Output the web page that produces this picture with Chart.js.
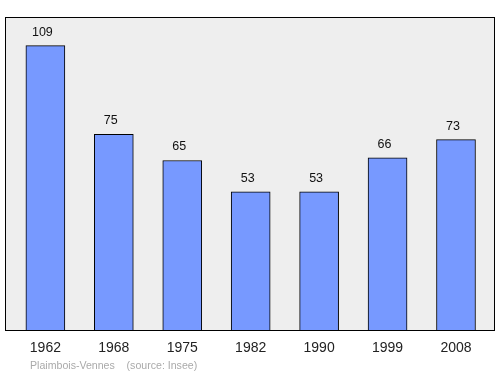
<!DOCTYPE html>
<html>
<head>
<meta charset="utf-8">
<script src="https://cdn.jsdelivr.net/npm/chart.js@4"></script>
<style>
	html, body { margin: 0; padding: 0; background: #fff; }
	#box { width: 500px; height: 374px; }
</style>
</head>
<body>
<div id="box"><canvas id="myChart"></canvas></div>
<script>
const years = ['1962', '1968', '1975', '1982', '1990', '1999', '2008'];
const population = [109, 75, 65, 53, 53, 66, 73];
const yMax = 120;
const caption = 'Plaimbois-Vennes    (source: Insee)';

const ctx = document.getElementById('myChart');

// background box, value labels, year labels, caption
const decor = {
	id: 'decor',
	beforeDatasetsDraw(chart) {
		const a = chart.chartArea;
		const c = chart.ctx;
		c.save();
		c.fillStyle = '#eeeeee';
		c.fillRect(a.left, a.top, a.right - a.left, a.bottom - a.top);
		c.restore();
	},
	afterDatasetsDraw(chart) {
		const a = chart.chartArea;
		const c = chart.ctx;
		const xs = chart.scales.x;
		const ys = chart.scales.y;
		c.save();
		c.strokeStyle = '#000';
		c.lineWidth = 1;
		c.strokeRect(a.left + 0.5, a.top + 0.5, a.right - a.left - 1, a.bottom - a.top);

		c.textAlign = 'center';
		c.textBaseline = 'alphabetic';
		c.fillStyle = '#111';
		c.font = '12.5px "Liberation Sans", Arial, sans-serif';
		population.forEach((v, i) => {
			c.fillText(String(v), xs.getPixelForValue(i) - 3, ys.getPixelForValue(v) - 10);
		});

		c.fillStyle = '#222';
		c.font = '14px "Liberation Sans", Arial, sans-serif';
		years.forEach((y, i) => {
			c.fillText(y, xs.getPixelForValue(i), a.bottom + 22);
		});

		c.textAlign = 'left';
		c.fillStyle = '#aaaaaa';
		c.font = '10.6px "Liberation Sans", Arial, sans-serif';
		c.fillText(caption, 30, a.bottom + 39);
		c.restore();
	}
};

new Chart(ctx, {
	type: 'bar',
	data: {
		datasets: [{
			data: population.map((v, i) => ({ x: i, y: v })),
			backgroundColor: '#7799ff',
			borderColor: '#000',
			borderWidth: 1,
			borderSkipped: 'bottom',
			barThickness: 39
		}]
	},
	options: {
		responsive: true,
		maintainAspectRatio: false,
		animation: false,
		layout: { padding: { left: 5, right: 5, top: 17, bottom: 44 } },
		plugins: { legend: { display: false }, tooltip: { enabled: false } },
		scales: {
			x: { type: 'linear', min: -0.59, max: 6.57, offset: false, display: false },
			y: { min: 0, max: yMax, display: false }
		}
	},
	plugins: [decor]
});
</script>
</body>
</html>
